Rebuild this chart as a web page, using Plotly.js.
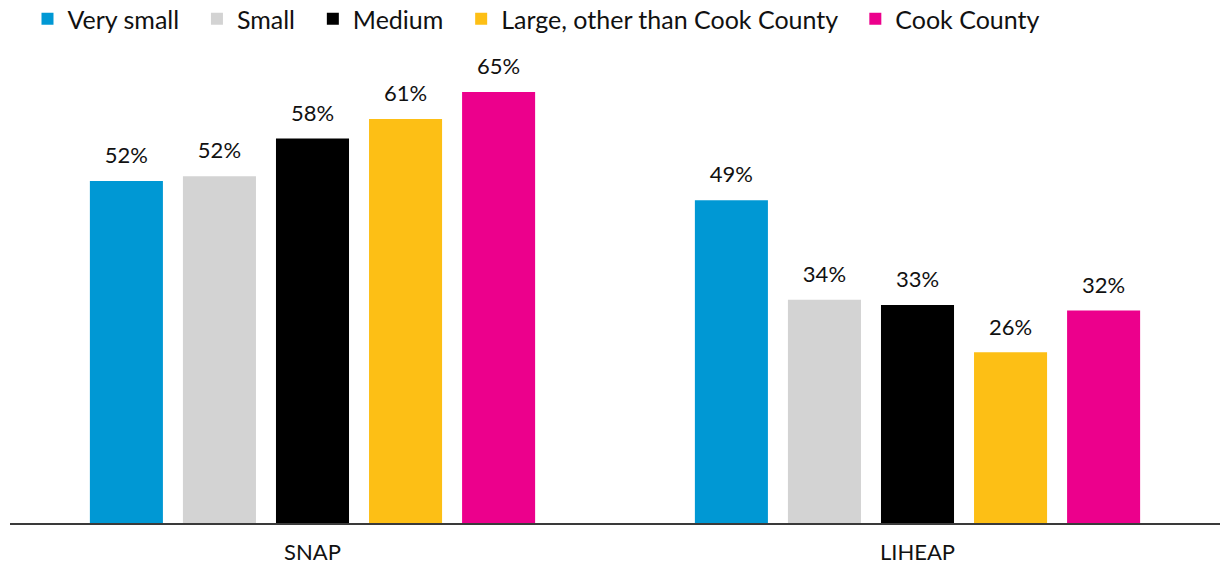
<!DOCTYPE html>
<html>
<head>
<meta charset="utf-8">
<script src="https://cdn.plot.ly/plotly-3.0.1.min.js"></script>
<style>html,body{margin:0;padding:0;background:#fff;}#chart{width:1222px;height:567px;}</style>
</head>
<body>
<div id="chart"></div>
<script>
const categories = ["SNAP", "LIHEAP"];
const seriesNames = ["Very small", "Small", "Medium", "Large, other than Cook County", "Cook County"];
const verySmall = [51.5, 48.6];
const small = [52.2, 33.6];
const medium = [57.9, 32.8];
const large = [60.8, 25.7];
const cook = [64.9, 32.0];
const verySmallLabels = ["52%", "49%"];
const smallLabels = ["52%", "34%"];
const mediumLabels = ["58%", "33%"];
const largeLabels = ["61%", "26%"];
const cookLabels = ["65%", "32%"];
const colors = ["#0098D4", "#D3D3D3", "#000000", "#FDBF15", "#EC008C"];

const values = [verySmall, small, medium, large, cook];
const labels = [verySmallLabels, smallLabels, mediumLabels, largeLabels, cookLabels];

const barTraces = seriesNames.map((name, i) => ({
  type: "bar",
  name: i < seriesNames.length - 1 ? name + "\u00a0\u00a0" : name,
  x: categories,
  y: values[i],
  offsetgroup: String(i),
  marker: {color: colors[i]},
  hoverinfo: "skip"
}));

const labelTraces = seriesNames.map((name, i) => ({
  type: "scatter",
  mode: "markers+text",
  name: name,
  x: categories,
  y: values[i],
  offsetgroup: String(i),
  text: labels[i],
  textposition: "top center",
  cliponaxis: false,
  textfont: {family: "Lato, sans-serif", size: 22, color: "#111"},
  marker: {size: 18, opacity: 0},
  showlegend: false,
  hoverinfo: "skip"
}));

const layout = {
  width: 1222,
  height: 567,
  margin: {l: 10, r: 2, t: 58, b: 44},
  paper_bgcolor: "#fff",
  plot_bgcolor: "#fff",
  font: {family: "Lato, sans-serif", color: "#111"},
  barmode: "group",
  scattermode: "group",
  bargap: 0.231,
  scattergap: 0.231,
  bargroupgap: 0.215,
  showlegend: true,
  legend: {
    orientation: "h",
    xref: "container", yref: "container",
    x: 0.0225, y: 1 - 19 / 567, xanchor: "left", yanchor: "middle",
    font: {family: "Lato, sans-serif", size: 25, color: "#111"},
    itemwidth: 30,
    traceorder: "normal"
  },
  xaxis: {
    type: "category",
    showline: true,
    linecolor: "#3a3a3a",
    linewidth: 2,
    ticks: "",
    tickfont: {family: "Lato, sans-serif", size: 22, color: "#111"},
    ticklabelstandoff: 9,
    showgrid: false
  },
  yaxis: {
    range: [0, 70],
    visible: false,
    showgrid: false,
    zeroline: false
  }
};

Plotly.newPlot("chart", barTraces.concat(labelTraces), layout, {displayModeBar: false, staticPlot: true});
</script>
</body>
</html>
